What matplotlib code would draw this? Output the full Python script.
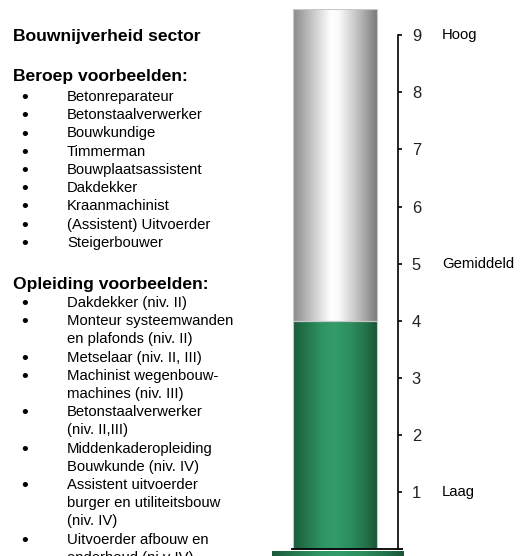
import numpy as np
import matplotlib.pyplot as plt
from matplotlib.colors import LinearSegmentedColormap

plt.rcParams['font.family'] = ['Liberation Sans', 'DejaVu Sans']

# Data
score = 4.0          # green part of the column
scale_top = 9.46     # grey column runs to the top of the plot
tick_values = [1, 2, 3, 4, 5, 6, 7, 8, 9]
level_labels = {9: 'Hoog', 5: 'Gemiddeld', 1: 'Laag'}

title = 'Bouwnijverheid sector'
beroep_header = 'Beroep voorbeelden:'
beroepen = ['Betonreparateur', 'Betonstaalverwerker', 'Bouwkundige', 'Timmerman',
            'Bouwplaatsassistent', 'Dakdekker', 'Kraanmachinist',
            '(Assistent) Uitvoerder', 'Steigerbouwer']
opleiding_header = 'Opleiding voorbeelden:'
opleidingen = ['Dakdekker (niv. II)',
               'Monteur systeemwanden\nen plafonds (niv. II)',
               'Metselaar (niv. II, III)',
               'Machinist wegenbouw-\nmachines (niv. III)',
               'Betonstaalverwerker\n(niv. II,III)',
               'Middenkaderopleiding\nBouwkunde (niv. IV)',
               'Assistent uitvoerder\nburger en utiliteitsbouw\n(niv. IV)',
               'Uitvoerder afbouw en\nonderhoud (ni.v IV)']

W, H = 529, 556
fig = plt.figure(figsize=(W / 100, H / 100), dpi=100)

def px(x, y):
    return x / W, 1 - y / H

# left text block
fig.text(*px(13, 37), title, fontsize=12.6, fontweight='bold', va='center')

def bullet_list(header, items, y_header, y_first, step=18.2):
    fig.text(*px(13, y_header), header, fontsize=12.6, fontweight='bold', va='center')
    y = y_first
    for item in items:
        fig.text(*px(25, y + 1.5), '\u2022', fontsize=14, va='center', ha='center')
        for line in item.split('\n'):
            fig.text(*px(67, y), line, fontsize=10.7, va='center')
            y += step

bullet_list(beroep_header, beroepen, 77, 97, 18.25)
bullet_list(opleiding_header, opleidingen, 284, 303, 18.2)

# column axes: x 272..398 px, value 0 at y=549 px, top at y=9 px
ymin = -7 / 57.1
ax = fig.add_axes([272 / W, 0, 126 / W, (556 - 9) / H])
ax.patch.set_alpha(0)

grey_cmap = LinearSegmentedColormap.from_list('grey', [
    (0.0, '#8c8c8c'), (0.12, '#aaaaaa'), (0.28, '#d4d4d4'), (0.45, '#ffffff'),
    (0.55, '#fafafa'), (0.75, '#c6c6c6'), (1.0, '#7c7c7c')])
green_cmap = LinearSegmentedColormap.from_list('green', [
    (0.0, '#1b5a3a'), (0.15, '#24754c'), (0.35, '#2f9464'), (0.5, '#339c6a'),
    (0.7, '#2c8c5c'), (0.88, '#22704a'), (1.0, '#1a5536')])

bar_x, bar_w = 0.5, 84 / 126
bars_green = ax.bar([bar_x], [score], width=bar_w, bottom=0,
                    facecolor='none', edgecolor='#c8c8c8', linewidth=0.8, zorder=3)
bars_grey = ax.bar([bar_x], [scale_top - score], width=bar_w, bottom=score,
                   facecolor='none', edgecolor='#c8c8c8', linewidth=0.8, zorder=3)

grad = np.linspace(0, 1, 256).reshape(1, -1)
for bars, cmap in ((bars_green, green_cmap), (bars_grey, grey_cmap)):
    p = bars.patches[0]
    x0, y0 = p.get_x(), p.get_y()
    im = ax.imshow(grad, cmap=cmap, aspect='auto', zorder=2,
                   extent=(x0, x0 + p.get_width(), y0, y0 + p.get_height()))
    im.set_clip_path(p)

# base plate under the column
ax.imshow(grad, cmap=green_cmap, aspect='auto', zorder=2,
          extent=(0, 131 / 126, ymin, -2 / 57.1), clip_on=False)
ax.set_xlim(0, 1)
ax.set_ylim(ymin, scale_top)
ax.plot([(291 - 272) / 126, 131 / 126], [0, 0], color='black', lw=1.3,
        clip_on=False, zorder=4, solid_capstyle='butt')

for s in ['top', 'left', 'bottom']:
    ax.spines[s].set_visible(False)
ax.spines['right'].set_bounds(0, 9)
ax.spines['right'].set_linewidth(1.2)
ax.yaxis.tick_right()
ax.set_xticks([])
ax.set_yticks(tick_values)
ax.tick_params(axis='y', direction='out', length=3, width=1.2, pad=7,
               labelsize=11.9, labelcolor='#222222')

for v, lab in level_labels.items():
    ax.text(1 + (442 - 398) / 126, v, lab, fontsize=10.7, va='center', ha='left',
            transform=ax.get_yaxis_transform(), clip_on=False)

fig.savefig('out.png', dpi=100)
